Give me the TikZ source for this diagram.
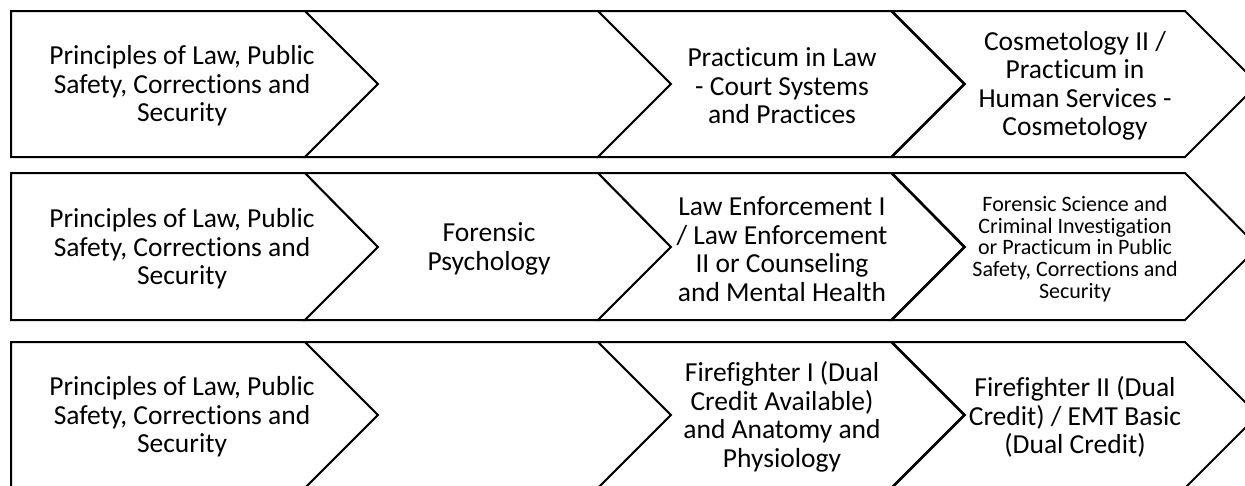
\documentclass[tikz,border=0pt]{standalone}
\usepackage{fontspec}
\setmainfont{Carlito}[Ligatures=NoCommon]
\tikzset{
  chev/.style={draw=black, line width=2pt, line join=miter, fill=white},
  lbl/.style={align=center, inner sep=0pt, font=\fontsize{27.5}{28.5}\selectfont},
  lblsmall/.style={align=center, inner sep=0pt, font=\fontsize{22}{21.8}\selectfont}
}
\newcommand\firstchev[3]{% top, mid, bottom
  \draw[chev] (11,#1) -- (305,#1) -- (378,#2) -- (305,#3) -- (11,#3) -- cycle;}
\newcommand\nextchev[4]{% x0, top, mid, bottom
  \draw[chev] (#1,#2) -- ({#1+293},#2) -- ({#1+366},#3) -- ({#1+293},#4) -- (#1,#4) -- ({#1+73},#3) -- cycle;}
\begin{document}
\begin{tikzpicture}[x=1pt,y=-1pt]
\useasboundingbox (0,0) rectangle (1245,485);
\clip (0,0) rectangle (1245,485);
% row 1
\firstchev{11}{84}{157}
\nextchev{305}{11}{84}{157}
\nextchev{598}{11}{84}{157}
\nextchev{892}{11}{84}{157}
% row 2
\firstchev{173}{247}{320}
\nextchev{305}{173}{247}{320}
\nextchev{598}{173}{247}{320}
\nextchev{892}{173}{247}{320}
% row 3
\firstchev{342}{415}{488}
\nextchev{305}{342}{415}{488}
\nextchev{598}{342}{415}{488}
\nextchev{892}{342}{415}{488}
% labels row 1
\node[lbl] (a1) at (182,86) {Principles of Law, Public\\Safety, Corrections and\\Security};
\node[lbl] (a3) at (782,86) {Practicum in Law\\- Court Systems\\and Practices};
\node[lbl] (a4) at (1075,86) {Cosmetology II /\\Practicum in\\Human Services -\\Cosmetology};
% labels row 2
\node[lbl] (b1) at (182,249) {Principles of Law, Public\\Safety, Corrections and\\Security};
\node[lbl] (b2) at (489,249) {Forensic\\Psychology};
\node[lbl] (b3) at (782,249) {Law Enforcement I\\/ Law Enforcement\\II or Counseling\\and Mental Health};
\node[lblsmall] (b4) at (1075,249) {Forensic Science and\\Criminal Investigation\\or Practicum in Public\\Safety, Corrections and\\Security};
% labels row 3
\node[lbl] (c1) at (182,417) {Principles of Law, Public\\Safety, Corrections and\\Security};
\node[lbl] (c3) at (782,417) {Firefighter I (Dual\\Credit Available)\\and Anatomy and\\Physiology};
\node[lbl] (c4) at (1075,417) {Firefighter II (Dual\\Credit) / EMT Basic\\(Dual Credit)};
\end{tikzpicture}
\end{document}
